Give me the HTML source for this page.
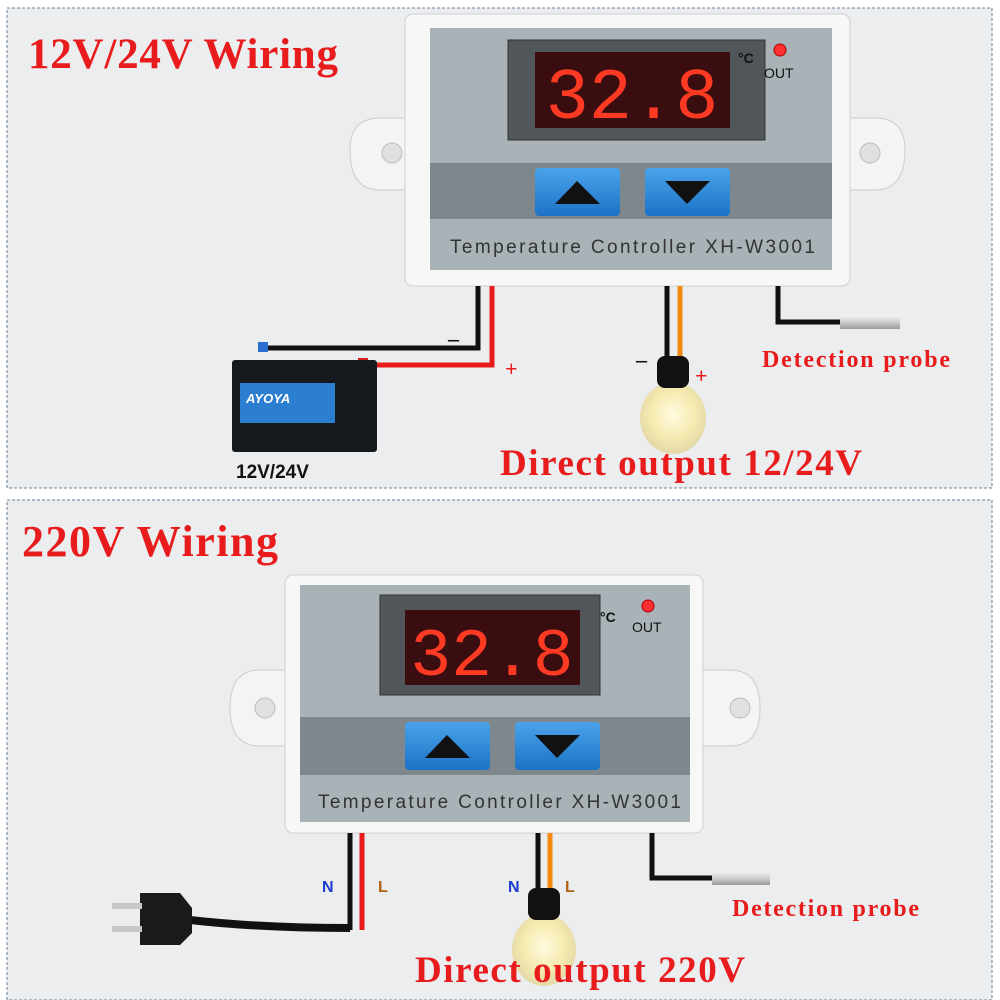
<!DOCTYPE html>
<html><head><style>
body{margin:0;background:#fff;}
svg{display:block;}
</style></head><body>
<svg width="1000" height="1000" viewBox="0 0 1000 1000" xmlns="http://www.w3.org/2000/svg" font-family="Liberation Serif, serif">
<defs>
<radialGradient id="bulb" cx="50%" cy="45%" r="55%"><stop offset="0" stop-color="#fffbe0"/><stop offset="0.6" stop-color="#f6eab0"/><stop offset="1" stop-color="#e3d8a8"/></radialGradient>
<linearGradient id="btn" x1="0" y1="0" x2="0" y2="1"><stop offset="0" stop-color="#4aa3ea"/><stop offset="1" stop-color="#1d72c6"/></linearGradient>
<linearGradient id="probe" x1="0" y1="0" x2="0" y2="1"><stop offset="0" stop-color="#f5f5f5"/><stop offset="0.5" stop-color="#cfcfcf"/><stop offset="1" stop-color="#9a9a9a"/></linearGradient>
</defs>
<rect width="1000" height="1000" fill="#fff"/>
<rect x="7" y="8" width="985" height="480" fill="#ebedef" stroke="#6a7f99" stroke-dasharray="3,2"/>
<rect x="7" y="500" width="985" height="500" fill="#ebedef" stroke="#6a7f99" stroke-dasharray="3,2"/>

<!-- TOP CONTROLLER -->
<g>
<path d="M350 150 q0-32 30-32 h40 v72 h-40 q-30 0-30-40z" fill="#f4f4f4" stroke="#ccc"/>
<path d="M905 150 q0-32 -30-32 h-40 v72 h40 q30 0 30-40z" fill="#f4f4f4" stroke="#ccc"/>
<circle cx="392" cy="153" r="10" fill="#e0e0e0" stroke="#bbb"/>
<circle cx="870" cy="153" r="10" fill="#e0e0e0" stroke="#bbb"/>
<rect x="405" y="14" width="445" height="272" rx="8" fill="#f7f7f7" stroke="#d0d0d0"/>
<rect x="430" y="28" width="402" height="242" fill="#a9b2b6"/>
<rect x="430" y="163" width="402" height="56" fill="#7e878c"/>
<rect x="508" y="40" width="257" height="100" fill="#505659" stroke="#333"/>
<rect x="535" y="52" width="195" height="76" fill="#3a0d10"/>
<text x="632" y="118" text-anchor="middle" font-family="Liberation Mono, monospace" font-size="72" fill="#ff3a22">32.8</text>
<text x="738" y="63" font-family="Liberation Sans, sans-serif" font-size="14" font-weight="bold" fill="#111">°C</text>
<circle cx="780" cy="50" r="6" fill="#ff3030" stroke="#a00"/>
<text x="764" y="78" font-family="Liberation Sans, sans-serif" font-size="14" fill="#111">OUT</text>
<rect x="535" y="168" width="85" height="48" rx="4" fill="url(#btn)"/>
<polygon points="555,204 577,181 600,204" fill="#111"/>
<rect x="645" y="168" width="85" height="48" rx="4" fill="url(#btn)"/>
<polygon points="665,181 710,181 687,204" fill="#111"/>
<text x="450" y="253" font-family="Liberation Sans, sans-serif" font-size="19" fill="#333" textLength="365">Temperature Controller   XH-W3001</text>
</g>
<!-- top wires -->
<polyline points="478,286 478,348 262,348" fill="none" stroke="#111" stroke-width="5"/>
<polyline points="492,286 492,365 365,365" fill="none" stroke="#e81c1c" stroke-width="5"/>
<text x="448" y="346" font-size="22" fill="#111" font-weight="bold">–</text>
<text x="505" y="376" font-size="22" fill="#e81c1c" font-weight="bold">+</text>
<!-- battery -->
<rect x="258" y="342" width="10" height="10" fill="#2a6fd0"/>
<rect x="358" y="358" width="10" height="10" fill="#d82020"/>
<rect x="232" y="360" width="145" height="92" fill="#161a1f" rx="3"/>
<rect x="240" y="383" width="95" height="40" fill="#2c7fd0"/>
<text x="246" y="403" font-family="Liberation Sans, sans-serif" font-size="13" font-weight="bold" fill="#fff" font-style="italic">AYOYA</text>
<text x="236" y="478" font-family="Liberation Sans, sans-serif" font-size="19" font-weight="bold" fill="#111">12V/24V</text>
<!-- bulb -->
<line x1="667" y1="286" x2="667" y2="360" stroke="#111" stroke-width="5"/>
<line x1="680" y1="286" x2="680" y2="360" stroke="#f58a10" stroke-width="5"/>
<text x="636" y="367" font-size="22" fill="#111" font-weight="bold">–</text>
<text x="695" y="383" font-size="22" fill="#e81c1c" font-weight="bold">+</text>
<ellipse cx="673" cy="418" rx="33" ry="36" fill="url(#bulb)"/>
<rect x="657" y="356" width="32" height="32" rx="8" fill="#111"/>
<!-- probe -->
<polyline points="778,286 778,322 840,322" fill="none" stroke="#111" stroke-width="5"/>
<rect x="840" y="315" width="60" height="14" fill="url(#probe)"/>
<text x="762" y="367" font-size="24" font-weight="bold" fill="#e81c1c" textLength="188">Detection probe</text>
<text x="28" y="68" font-size="43" font-weight="bold" fill="#e81c1c" textLength="310">12V/24V Wiring</text>
<text x="500" y="475" font-size="37" font-weight="bold" fill="#e81c1c" textLength="362">Direct output 12/24V</text>

<!-- BOTTOM CONTROLLER -->
<g>
<path d="M230 708 q0-38 30-38 h40 v76 h-40 q-30 0-30-38z" fill="#f4f4f4" stroke="#ccc"/>
<path d="M760 708 q0-38 -30-38 h-40 v76 h40 q30 0 30-38z" fill="#f4f4f4" stroke="#ccc"/>
<circle cx="265" cy="708" r="10" fill="#e0e0e0" stroke="#bbb"/>
<circle cx="740" cy="708" r="10" fill="#e0e0e0" stroke="#bbb"/>
<rect x="285" y="575" width="418" height="258" rx="8" fill="#f7f7f7" stroke="#d0d0d0"/>
<rect x="300" y="585" width="390" height="237" fill="#a9b2b6"/>
<rect x="300" y="717" width="390" height="58" fill="#7e878c"/>
<rect x="380" y="595" width="220" height="100" fill="#505659" stroke="#333"/>
<rect x="405" y="610" width="175" height="75" fill="#3a0d10"/>
<text x="492" y="675" text-anchor="middle" font-family="Liberation Mono, monospace" font-size="68" fill="#ff3a22">32.8</text>
<text x="600" y="622" font-family="Liberation Sans, sans-serif" font-size="14" font-weight="bold" fill="#111">°C</text>
<circle cx="648" cy="606" r="6" fill="#ff3030" stroke="#a00"/>
<text x="632" y="632" font-family="Liberation Sans, sans-serif" font-size="14" fill="#111">OUT</text>
<rect x="405" y="722" width="85" height="48" rx="4" fill="url(#btn)"/>
<polygon points="425,758 447,735 470,758" fill="#111"/>
<rect x="515" y="722" width="85" height="48" rx="4" fill="url(#btn)"/>
<polygon points="535,735 580,735 557,758" fill="#111"/>
<text x="318" y="808" font-family="Liberation Sans, sans-serif" font-size="19" fill="#333" textLength="363">Temperature Controller   XH-W3001</text>
</g>
<!-- plug wires -->
<line x1="350" y1="833" x2="350" y2="930" stroke="#111" stroke-width="5"/>
<line x1="362" y1="833" x2="362" y2="930" stroke="#e81c1c" stroke-width="5"/>
<text x="322" y="892" font-family="Liberation Sans, sans-serif" font-size="16" font-weight="bold" fill="#1a3ad0">N</text>
<text x="378" y="892" font-family="Liberation Sans, sans-serif" font-size="16" font-weight="bold" fill="#b06010">L</text>
<path d="M190 920 q70 8 160 8" fill="none" stroke="#111" stroke-width="8"/>
<path d="M140 893 h40 l12 15 v25 l-12 12 h-40z" fill="#1a1a1a"/>
<rect x="112" y="903" width="30" height="6" fill="#c8c8c8"/>
<rect x="112" y="926" width="30" height="6" fill="#c8c8c8"/>
<!-- bulb 2 -->
<line x1="538" y1="833" x2="538" y2="895" stroke="#111" stroke-width="5"/>
<line x1="550" y1="833" x2="550" y2="895" stroke="#f58a10" stroke-width="5"/>
<text x="508" y="892" font-family="Liberation Sans, sans-serif" font-size="16" font-weight="bold" fill="#1a3ad0">N</text>
<text x="565" y="892" font-family="Liberation Sans, sans-serif" font-size="16" font-weight="bold" fill="#b06010">L</text>
<ellipse cx="544" cy="950" rx="32" ry="36" fill="url(#bulb)"/>
<rect x="528" y="888" width="32" height="32" rx="8" fill="#111"/>
<!-- probe 2 -->
<polyline points="652,833 652,878 712,878" fill="none" stroke="#111" stroke-width="5"/>
<rect x="712" y="871" width="58" height="14" fill="url(#probe)"/>
<text x="732" y="916" font-size="24" font-weight="bold" fill="#e81c1c" textLength="187">Detection probe</text>
<text x="22" y="556" font-size="44" font-weight="bold" fill="#e81c1c" textLength="256">220V Wiring</text>
<text x="415" y="982" font-size="37" font-weight="bold" fill="#e81c1c" textLength="330">Direct output 220V</text>
</svg>
</body></html>
